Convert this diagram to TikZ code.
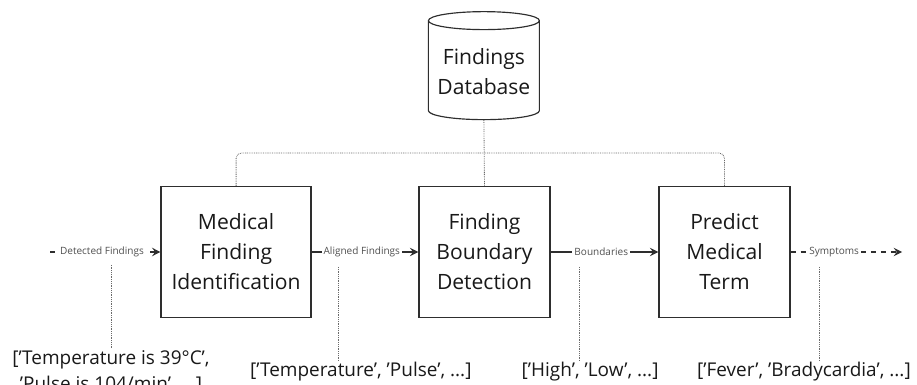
\documentclass[tikz,border=0pt]{standalone}
\usepackage{fontspec}
\setmainfont{Open Sans}
\usetikzlibrary{arrows.meta, shapes.geometric}
\definecolor{inkgray}{HTML}{2E2E2E}
\definecolor{labelgray}{HTML}{505050}
\definecolor{tapgray}{HTML}{6A6A6A}

\begin{document}
\begin{tikzpicture}[
  stage/.style={draw=inkgray, line width=1.2pt, minimum height=4.37cm, align=center,
    text=black!90, font=\fontsize{20}{28.5}\selectfont},
  store/.style={cylinder, shape border rotate=90, aspect=0.18, draw=inkgray, line width=1.1pt,
    minimum width=3.7cm, minimum height=3.6cm, align=center, text=black!90,
    font=\fontsize{20}{28.5}\selectfont},
  flow/.style={inkgray, line width=1.1pt, -{Stealth[length=8pt,width=8pt,inset=3pt]}},
  flowlabel/.style={fill=white, text=labelgray, inner sep=2pt, font=\fontsize{9.5}{11}\selectfont},
  tap/.style={tapgray, line width=0.8pt, dash pattern=on 0.8pt off 0.9pt},
  sample/.style={align=center, text=black!90, inner sep=1pt, font=\fontsize{18}{25}\selectfont}
]
\useasboundingbox (0,0) rectangle (30.567,-12.833);

%% database on top
\node[store] (db) at (16.13,-2.4) {Findings\\Database};

%% pipeline stages
\node[stage, minimum width=5cm] (medid) at (7.87,-8.4) {Medical\\Finding\\Identification};
\node[stage, minimum width=4.37cm] (bound) at (16.15,-8.4) {Finding\\Boundary\\Detection};
\node[stage, minimum width=4.37cm] (predict) at (24.15,-8.4) {Predict\\Medical\\Term};

%% lookups into the database
\coordinate (bus) at (16.15,-5.1);
\draw[tap, rounded corners=5pt] (medid.north) |- (bus) -| (predict.north);
\draw[tap] (db.south) -- (bound.north);

%% data passed between stages
\coordinate (detin) at (1.67,-8.4);
\coordinate (symout) at (30.07,-8.4);
\draw[flow, dash pattern=on 5pt off 4.5pt] (detin) -- (medid.west |- detin)
  node[flowlabel, pos=0.47] (detlbl) {Detected Findings};
\draw[flow] (medid.east |- detin) -- (bound.west |- detin)
  node[flowlabel, pos=0.47] (alilbl) {Aligned Findings};
\draw[flow] (bound.east |- detin) -- (predict.west |- detin)
  node[flowlabel, pos=0.47] (boulbl) {Boundaries};
\draw[flow, dash pattern=on 5pt off 4.5pt] (predict.east |- detin) -- (symout)
  node[flowlabel, pos=0.39] (symlbl) {Symptoms};

%% example values
\node[sample] (detlist) at (3.7,-12.4) {['Temperature is 39°C',\\'Pulse is 104/min', ...]};
\node[sample] (alilist) at (12.03,-12.4) {['Temperature', 'Pulse', ...]};
\node[sample] (boulist) at (19.67,-12.4) {['High', 'Low', ...]};
\node[sample] (symlist) at (26.8,-12.4) {['Fever', 'Bradycardia', ...]};

\coordinate (dettap) at (3.7,-8.83);
\coordinate (alitap) at (11.27,-8.9);
\coordinate (boutap) at (19.3,-8.9);
\coordinate (symtap) at (27.33,-8.9);
\draw[tap] (dettap) -- (dettap |- detlist.north);
\draw[tap] (alitap) -- (alitap |- alilist.north);
\draw[tap] (boutap) -- (boutap |- boulist.north);
\draw[tap] (symtap) -- (symtap |- symlist.north);
\end{tikzpicture}
\end{document}
